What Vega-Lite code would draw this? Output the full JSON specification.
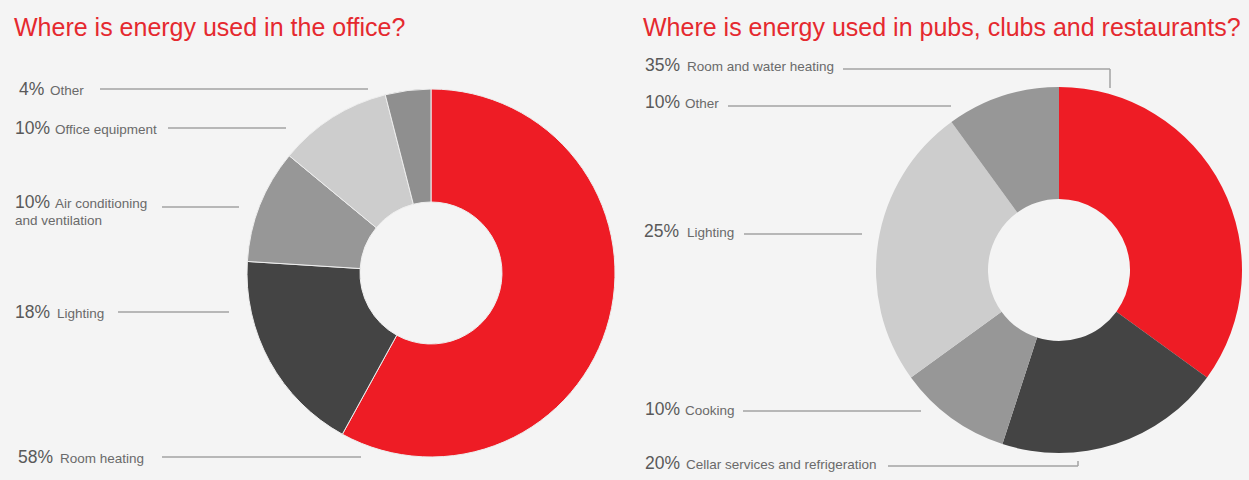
{
  "$schema": "https://vega.github.io/schema/vega-lite/v6.json",
  "width": 1249,
  "height": 480,
  "autosize": {"type": "fit", "contains": "padding"},
  "padding": 0,
  "background": "#f4f4f4",
  "config": {"view": {"stroke": null}},
  "datasets": {
    "office": [
      {"id": "o1", "category": "Room heating", "share": 58, "order": 1},
      {"id": "o2", "category": "Lighting", "share": 18, "order": 2},
      {"id": "o3", "category": "Air conditioning and ventilation", "share": 10, "order": 3},
      {"id": "o4", "category": "Office equipment", "share": 10, "order": 4},
      {"id": "o5", "category": "Other", "share": 4, "order": 5}
    ],
    "pubs": [
      {"id": "p1", "category": "Room and water heating", "share": 35, "order": 1},
      {"id": "p2", "category": "Cellar services and refrigeration", "share": 20, "order": 2},
      {"id": "p3", "category": "Cooking", "share": 10, "order": 3},
      {"id": "p4", "category": "Lighting", "share": 25, "order": 4},
      {"id": "p5", "category": "Other", "share": 10, "order": 5}
    ],
    "labels": [
      {"pct": "4%", "name": "Other", "px": 19, "nx": 50, "y": 95},
      {"pct": "10%", "name": "Office equipment", "px": 15, "nx": 55, "y": 134},
      {"pct": "10%", "name": "Air conditioning", "px": 15, "nx": 55, "y": 208},
      {"pct": "", "name": "and ventilation", "px": 15, "nx": 15, "y": 225},
      {"pct": "18%", "name": "Lighting", "px": 15, "nx": 57, "y": 318},
      {"pct": "58%", "name": "Room heating", "px": 18, "nx": 60, "y": 463},
      {"pct": "35%", "name": "Room and water heating", "px": 645, "nx": 687, "y": 71},
      {"pct": "10%", "name": "Other", "px": 645, "nx": 685, "y": 108},
      {"pct": "25%", "name": "Lighting", "px": 644, "nx": 687, "y": 237},
      {"pct": "10%", "name": "Cooking", "px": 645, "nx": 685, "y": 415},
      {"pct": "20%", "name": "Cellar services and refrigeration", "px": 645, "nx": 686, "y": 469}
    ],
    "leaders": [
      {"x": 100, "y": 89, "x2": 368, "y2": 89},
      {"x": 168, "y": 128, "x2": 286, "y2": 128},
      {"x": 162, "y": 207, "x2": 239, "y2": 207},
      {"x": 118, "y": 312, "x2": 229, "y2": 312},
      {"x": 162, "y": 457, "x2": 361, "y2": 457},
      {"x": 843, "y": 69, "x2": 1110, "y2": 69},
      {"x": 1110, "y": 69, "x2": 1110, "y2": 88},
      {"x": 728, "y": 106, "x2": 951, "y2": 106},
      {"x": 744, "y": 234, "x2": 862, "y2": 234},
      {"x": 743, "y": 411, "x2": 921, "y2": 411},
      {"x": 888, "y": 466, "x2": 1078, "y2": 466},
      {"x": 1078, "y": 461, "x2": 1078, "y2": 466}
    ],
    "titles": [
      {"text": "Where is energy used in the office?", "x": 14, "y": 36},
      {"text": "Where is energy used in pubs, clubs and restaurants?", "x": 643, "y": 36}
    ]
  },
  "layer": [
    {
      "data": {"name": "office"},
      "mark": {"type": "arc", "outerRadius": 184, "innerRadius": 71, "stroke": "#eeeeee", "strokeWidth": 1},
      "encoding": {
        "x": {"datum": 431, "type": "quantitative", "scale": {"domain": [0, 1249], "nice": false, "zero": false}, "axis": null},
        "y": {"datum": 273, "type": "quantitative", "scale": {"domain": [0, 480], "nice": false, "zero": false, "reverse": true}, "axis": null},
        "theta": {"field": "share", "type": "quantitative", "stack": true},
        "order": {"field": "order", "type": "quantitative"},
        "color": {
          "field": "id", "type": "nominal", "legend": null,
          "scale": {
            "domain": ["o1", "o2", "o3", "o4", "o5", "p1", "p2", "p3", "p4", "p5"],
            "range": ["#ee1c25", "#444444", "#979797", "#cdcdcd", "#8f8f8f", "#ee1c25", "#444444", "#979797", "#cdcdcd", "#979797"]
          }
        }
      }
    },
    {
      "data": {"name": "pubs"},
      "mark": {"type": "arc", "outerRadius": 183, "innerRadius": 71},
      "encoding": {
        "x": {"datum": 1059, "type": "quantitative", "scale": {"domain": [0, 1249], "nice": false, "zero": false}, "axis": null},
        "y": {"datum": 270, "type": "quantitative", "scale": {"domain": [0, 480], "nice": false, "zero": false, "reverse": true}, "axis": null},
        "theta": {"field": "share", "type": "quantitative", "stack": true},
        "order": {"field": "order", "type": "quantitative"},
        "color": {"field": "id", "type": "nominal", "legend": null}
      }
    },
    {
      "data": {"name": "leaders"},
      "mark": {"type": "rule", "color": "#a3a3a3", "strokeWidth": 1.5},
      "encoding": {
        "x": {"field": "x", "type": "quantitative", "axis": null},
        "x2": {"field": "x2"},
        "y": {"field": "y", "type": "quantitative", "axis": null},
        "y2": {"field": "y2"}
      }
    },
    {
      "data": {"name": "labels"},
      "mark": {"type": "text", "align": "left", "baseline": "alphabetic", "font": "Liberation Sans", "fontSize": 17.5, "color": "#595959"},
      "encoding": {
        "x": {"field": "px", "type": "quantitative", "axis": null},
        "y": {"field": "y", "type": "quantitative", "axis": null},
        "text": {"field": "pct"}
      }
    },
    {
      "data": {"name": "labels"},
      "mark": {"type": "text", "align": "left", "baseline": "alphabetic", "font": "Liberation Sans", "fontSize": 13.5, "color": "#6a6a6a"},
      "encoding": {
        "x": {"field": "nx", "type": "quantitative", "axis": null},
        "y": {"field": "y", "type": "quantitative", "axis": null},
        "text": {"field": "name"}
      }
    },
    {
      "data": {"name": "titles"},
      "mark": {"type": "text", "align": "left", "baseline": "alphabetic", "font": "Liberation Sans", "fontSize": 25, "color": "#e5292f"},
      "encoding": {
        "x": {"field": "x", "type": "quantitative", "axis": null},
        "y": {"field": "y", "type": "quantitative", "axis": null},
        "text": {"field": "text"}
      }
    }
  ]
}
